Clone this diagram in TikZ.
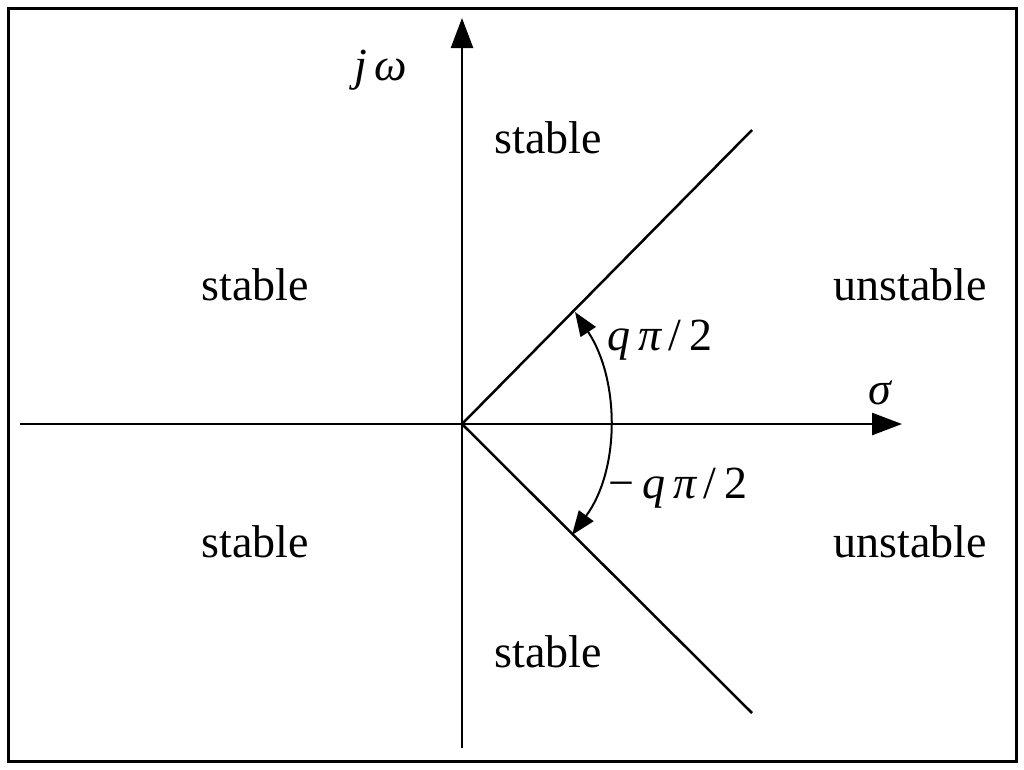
\documentclass[tikz,border=0pt]{standalone}
\usepackage{fontspec}
\setmainfont{Liberation Serif}
\usetikzlibrary{arrows.meta}
\begin{document}
\begin{tikzpicture}[x=1pt,y=-1pt,
  lbl/.style={font=\fontsize{46}{50}\selectfont},
  ax/.style={line width=2.5pt,-{Triangle[length=30pt,width=22pt]}}]
\useasboundingbox (0,0) rectangle (1024,769);
\draw[line width=3pt] (8,8) rectangle (1016,761);
\coordinate (O) at (462,424);
\coordinate (xl) at (20,424);
\coordinate (xr) at (902,424);
\coordinate (yb) at (462,748);
\coordinate (yt) at (462,18);
\coordinate (u) at (752,130);
\coordinate (d) at (752,713);
\coordinate (a1) at (575,312);
\coordinate (a2) at (572,535);
\draw[ax] (xl) -- (xr);
\draw[ax] (yb) -- (yt);
\draw[line width=2.5pt] (O) -- (u);
\draw[line width=2.5pt] (O) -- (d);
\draw[line width=2pt,{Triangle[length=24pt,width=18pt]}-{Triangle[length=24pt,width=18pt]}]
  (a1) .. controls (620,380) and (620,470) .. (a2);
\node[lbl] (s1) at (548,138) {stable};
\node[lbl] (s2) at (255,285) {stable};
\node[lbl] (s3) at (255,542) {stable};
\node[lbl] (s4) at (548,652) {stable};
\node[lbl] (u1) at (910,285) {unstable};
\node[lbl] (u2) at (910,542) {unstable};
\node[lbl] (q1) at (660,340) {{\itshape q\,π}\,/\,2};
\node[lbl] (q2) at (678,488) {−\,{\itshape q\,π}\,/\,2};
\node[lbl] (sg) at (880,393) {\itshape σ};
\node[lbl] (jw) at (381,70) {\itshape j\,ω};
\end{tikzpicture}
\end{document}
